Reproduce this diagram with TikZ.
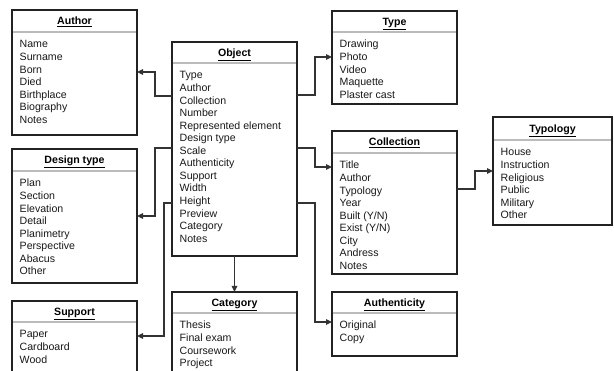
\documentclass[tikz,border=0pt]{standalone}
\usepackage{fontspec}
\setmainfont{Liberation Sans}
\usetikzlibrary{arrows.meta}
\definecolor{boxline}{HTML}{222222}
\definecolor{sepgray}{HTML}{BBBBBB}
\definecolor{conn}{HTML}{333333}
\tikzset{
  box/.style={draw=boxline, line width=1.2pt, fill=white, inner sep=0pt, outer sep=0pt, anchor=north west},
  sepline/.style={draw=sepgray, line width=1.4pt},
  ttl/.style={anchor=base, inner sep=0pt, font=\fontsize{10.6}{12.5}\selectfont\bfseries, text=black},
  itm/.style={anchor=base west, inner sep=0pt, font=\fontsize{10.6}{12.5}\selectfont, text=black!90},
  arr/.style={draw=conn, line width=1.1pt, -{Triangle[length=6pt,width=5.5pt]}},
}
% #1 name, #2 left, #3 top, #4 right, #5 bottom, #6 separator y, #7 title, #8 items
\newcommand{\erbox}[8]{%
  \node[box, minimum width={#4-#2}, minimum height={#5-#3}] (#1) at (#2,#3) {};
  \draw[sepline] ({#2+0.6},#6) -- ({#4-0.6},#6);
  \node[ttl] (#1-t) at ({(#2+#4)/2},{(#3+#6)/2+3.8}) {\underline{#7}};
  \foreach \t [count=\i] in {#8} {
    \node[itm] (#1-\i) at ({#2+7.5},{#6+16+(\i-1)*12.55}) {\t};
  }
}
\begin{document}
\begin{tikzpicture}[x=1pt,y=-1pt]
\useasboundingbox (0,0) rectangle (614,371);
\fill[white] (0,0) rectangle (614,371);
\clip (0,0) rectangle (614,371);

\erbox{author}{12}{10}{137}{135}{32}{Author}{Name,Surname,Born,Died,Birthplace,Biography,Notes}
\erbox{object}{172}{42}{297}{256}{63}{Object}{Type,Author,Collection,Number,Represented element,Design type,Scale,Authenticity,Support,Width,Height,Preview,Category,Notes}
\erbox{type}{332}{11}{457}{104}{32}{Type}{Drawing,Photo,Video,Maquette,Plaster cast}
\erbox{collection}{332}{131}{457}{274}{153}{Collection}{Title,Author,Typology,Year,Built (Y/N),Exist (Y/N),City,Andress,Notes}
\erbox{typology}{493}{117}{612}{225}{140}{Typology}{House,Instruction,Religious,Public,Military,Other}
\erbox{design}{12}{149}{137}{283}{171}{Design type}{Plan,Section,Elevation,Detail,Planimetry,Perspective,Abacus,Other}
\erbox{support}{12}{301}{137}{400}{322}{Support}{Paper,Cardboard,Wood}
\erbox{category}{172}{292}{297}{400}{313}{Category}{Thesis,Final exam,Coursework,Project}
\erbox{authenticity}{332}{292}{457}{356}{313}{Authenticity}{Original,Copy}

\draw[arr] (object.west |- 0,96) -- (155,96) |- (author.east |- 0,72);
\draw[arr] (object.east |- 0,95) -- (315,95) |- (type.west |- 0,57);
\draw[arr] (object.east |- 0,148) -- (315,148) |- (collection.west |- 0,167);
\draw[arr] (object.west |- 0,148) -- (155,148) |- (design.east |- 0,216);
\draw[arr] (object.west |- 0,203) -- (164,203) |- (support.east |- 0,336);
\draw[arr] (object.east |- 0,203) -- (315,203) |- (authenticity.west |- 0,322);
\draw[arr] (object.south) -- (category.north);
\draw[arr] (collection.east |- 0,189) -- (475,189) |- (typology.west |- 0,171);
\end{tikzpicture}
\end{document}
